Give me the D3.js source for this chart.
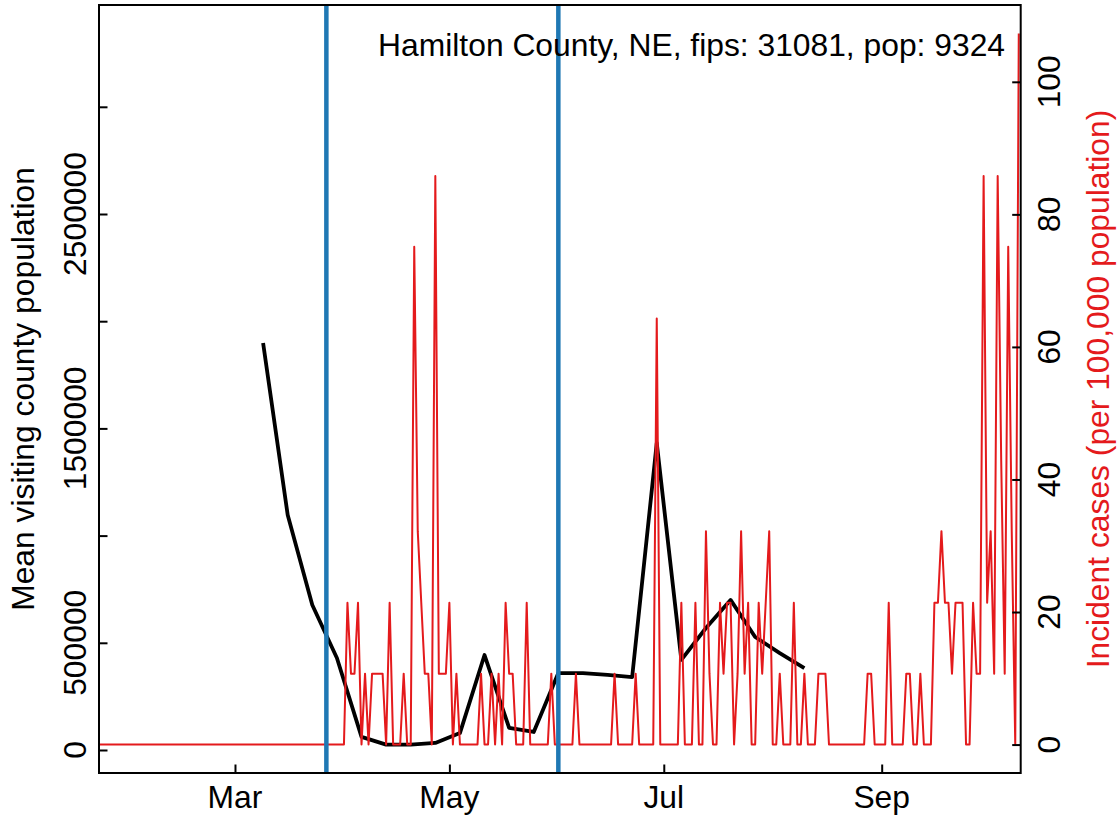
<!DOCTYPE html>
<html><head><meta charset="utf-8">
<script src="https://cdn.jsdelivr.net/npm/d3@7"></script>
<style>
body{margin:0;background:#fff}
text{font-family:"Liberation Sans",Arial,Helvetica,sans-serif}
</style>
</head><body>
<svg id="chart" width="1119" height="817"></svg>
<script>
// ---------------- data ----------------
const title = "Hamilton County, NE, fips: 31081, pop: 9324";
const leftAxisTitle = "Mean visiting county population";
const rightAxisTitle = "Incident cases (per 100,000 population)";

// weekly mean visiting county population
const visitDates = ["2020-03-09","2020-03-16","2020-03-23","2020-03-30","2020-04-06","2020-04-13",
  "2020-04-20","2020-04-27","2020-05-04","2020-05-11","2020-05-18","2020-05-25","2020-06-01",
  "2020-06-08","2020-06-15","2020-06-22","2020-06-29","2020-07-06","2020-07-13","2020-07-20",
  "2020-07-27","2020-08-03","2020-08-10"];
const visitValues = [1898000,1096000,676000,429000,61000,25000,
  25000,33000,79000,443000,103000,84000,359000,
  359000,350000,340000,1432000,420000,569000,700000,
  527000,452000,382000];

// daily incident cases per 100,000, starting at incidenceStart
const incidenceStart = "2020-01-22";
const incidence = [
  // Jan 22-31
  0,0,0,0,0,0,0,0,0,0,
  // Feb
  0,0,0,0,0,0,0,0,0,0, 0,0,0,0,0,0,0,0,0,0, 0,0,0,0,0,0,0,0,0,
  // Mar
  0,0,0,0,0,0,0,0,0,0, 0,0,0,0,0,0,0,0,0,0, 0,0,0,0,0,0,0,0,0,0, 0,
  // Apr
  0,21.4,10.7,10.7,21.4,0,10.7,0,10.7,10.7, 10.7,10.7,0,21.4,0,0,0,10.7,0,0,
  75.1,32.2,21.4,10.7,10.7,0,85.8,10.7,10.7,10.7,
  // May
  21.4,0,10.7,0,0,0,0,0,0,10.7, 0,0,10.7,0,10.7,0,21.4,10.7,10.7,0,
  0,0,21.4,0,0,0,0,0,0,10.7, 0,
  // Jun
  0,0,0,0,0,10.7,0,0,0,0, 0,0,0,0,0,0,10.7,0,0,0, 0,0,10.7,0,0,0,0,0,64.3,0,
  // Jul
  0,0,0,0,0,21.4,0,0,0,21.4, 0,0,32.2,10.7,0,0,21.4,10.7,21.4,21.4,
  0,10.7,32.2,10.7,21.4,0,0,21.4,10.7,21.4, 32.2,
  // Aug
  0,0,10.7,0,0,0,21.4,0,0,10.7, 0,0,0,10.7,10.7,10.7,0,0,0,0,
  0,0,0,0,0,0,0,10.7,10.7,0, 0,
  // Sep
  0,0,21.4,0,0,0,0,10.7,10.7,0, 0,10.7,0,0,0,21.4,21.4,32.2,21.4,21.4,
  10.7,21.4,21.4,21.4,0,0,21.4,10.7,10.7,85.8,
  // Oct 1-10
  21.4,32.2,10.7,85.8,42.9,10.7,75.1,32.2,0,107.3
];

const policyDates = ["2020-03-27","2020-06-01"];
const monthTicks = ["2020-03-01","2020-05-01","2020-07-01","2020-09-01"];
const monthLabels = ["Mar","May","Jul","Sep"];
const leftTicks = [0,500000,1000000,1500000,2000000,2500000,3000000];
const leftTickLabels = ["0","500000","","1500000","","2500000",""];
const rightTicks = [0,20,40,60,80,100];
const rightTickLabels = ["0","20","40","60","80","100"];

// ---------------- drawing ----------------
const svg = d3.select("#chart");
const W = 1119, H = 817;
const box = {left: 99, right: 1020.7, top: 5, bottom: 773};
const FS = 31.8;
const RED = "#E41A1C", BLUE = "#1F78B4";
const parse = d3.utcParse("%Y-%m-%d");

svg.append("rect").attr("width", W).attr("height", H).attr("fill", "#fff");

const x = d3.scaleUtc()
  .domain([Date.UTC(2020,0,22,7,26), Date.UTC(2020,9,10,13,12)])
  .range([box.left, box.right]);
const yL = d3.scaleLinear().domain([-107276, 3474813]).range([box.bottom, box.top]);
const yR = d3.scaleLinear().domain([-4.29, 111.59]).range([box.bottom, box.top]);

svg.append("clipPath").attr("id","clip").append("rect")
  .attr("x", box.left).attr("y", box.top)
  .attr("width", box.right-box.left).attr("height", box.bottom-box.top);

const plot = svg.append("g").attr("clip-path","url(#clip)");

// black line: visiting population
const visit = visitDates.map((d,i)=>({date: parse(d), v: visitValues[i]}));
plot.append("path").datum(visit)
  .attr("fill","none").attr("stroke","#000").attr("stroke-width",3.8)
  .attr("stroke-linejoin","round")
  .attr("d", d3.line().x(d=>x(d.date)).y(d=>yL(d.v)));

// red line: incidence
const start = parse(incidenceStart);
const inc = incidence.map((v,i)=>({date: d3.utcDay.offset(start, i), v}));
plot.append("path").datum(inc)
  .attr("fill","none").attr("stroke",RED).attr("stroke-width",2)
  .attr("stroke-linejoin","round")
  .attr("d", d3.line().x(d=>x(d.date)).y(d=>yR(d.v)));

// title
svg.append("text").attr("x", 1005).attr("y", 56).attr("text-anchor","end")
  .attr("font-size", FS).attr("fill","#000").text(title);

// blue vertical lines
plot.selectAll("line.policy").data(policyDates).enter().append("line")
  .attr("class","policy")
  .attr("x1", d=>x(parse(d))).attr("x2", d=>x(parse(d)))
  .attr("y1", box.top).attr("y2", box.bottom)
  .attr("stroke", BLUE).attr("stroke-width", 4.5);

// box
svg.append("rect").attr("x", box.left).attr("y", box.top)
  .attr("width", box.right-box.left).attr("height", box.bottom-box.top)
  .attr("fill","none").attr("stroke","#000").attr("stroke-width",2);

// x axis (inward ticks)
const xAxis = d3.axisTop(x).tickValues(monthTicks.map(parse))
  .tickSize(8.5).tickFormat("");
const gx = svg.append("g").attr("transform",`translate(0,${box.bottom})`).call(xAxis);
gx.select(".domain").remove();
gx.selectAll(".tick line").attr("stroke","#000").attr("stroke-width",2);
svg.selectAll("text.xlab").data(monthTicks).enter().append("text")
  .attr("class","xlab").attr("x", d=>x(parse(d))).attr("y", 808)
  .attr("text-anchor","middle").attr("font-size", FS).attr("fill","#000")
  .text((d,i)=>monthLabels[i]);

// left axis
const lAxis = d3.axisRight(yL).tickValues(leftTicks).tickSize(8.5).tickFormat("");
const gl = svg.append("g").attr("transform",`translate(${box.left},0)`).call(lAxis);
gl.select(".domain").remove();
gl.selectAll(".tick line").attr("stroke","#000").attr("stroke-width",2);
svg.selectAll("text.llab").data(leftTicks).enter().append("text")
  .attr("class","llab")
  .attr("transform", d=>`translate(86,${yL(d)}) rotate(-90)`)
  .attr("text-anchor","middle").attr("font-size", FS).attr("fill","#000")
  .text((d,i)=>leftTickLabels[i]);

// right axis
const rAxis = d3.axisLeft(yR).tickValues(rightTicks).tickSize(8.5).tickFormat("");
const gr = svg.append("g").attr("transform",`translate(${box.right},0)`).call(rAxis);
gr.select(".domain").remove();
gr.selectAll(".tick line").attr("stroke","#000").attr("stroke-width",2);
svg.selectAll("text.rlab").data(rightTicks).enter().append("text")
  .attr("class","rlab")
  .attr("transform", d=>`translate(1059.5,${yR(d)}) rotate(-90)`)
  .attr("text-anchor","middle").attr("font-size", FS).attr("fill","#000")
  .text((d,i)=>rightTickLabels[i]);

// axis titles
const midY = (box.top + box.bottom)/2;
svg.append("text").attr("transform",`translate(34,${midY}) rotate(-90)`)
  .attr("text-anchor","middle").attr("font-size", FS).attr("fill","#000")
  .text(leftAxisTitle);
svg.append("text").attr("transform",`translate(1108.5,${midY}) rotate(-90)`)
  .attr("text-anchor","middle").attr("font-size", FS).attr("fill", RED)
  .text(rightAxisTitle);
</script>
</body></html>
